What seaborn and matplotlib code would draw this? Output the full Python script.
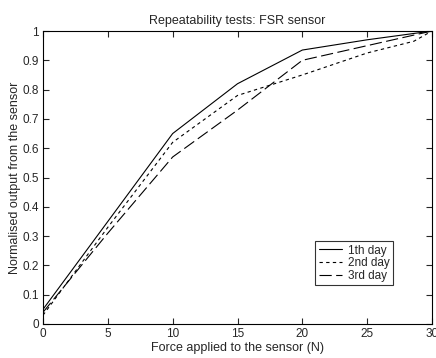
import matplotlib
matplotlib.use("Agg")
import matplotlib.pyplot as plt
import seaborn as sns
import pandas as pd
from matplotlib.ticker import FuncFormatter

day1_x = [0, 5, 10, 15, 20, 25, 30]
day1_y = [0.05, 0.35, 0.65, 0.82, 0.935, 0.97, 1.0]
day2_x = [0, 5, 10, 15, 20, 25, 28.6, 30]
day2_y = [0.03, 0.33, 0.62, 0.78, 0.85, 0.925, 0.965, 1.0]
day3_x = [0, 5, 10, 15, 20, 25, 30]
day3_y = [0.04, 0.31, 0.57, 0.73, 0.90, 0.95, 1.0]
labels = ["1th day", "2nd day", "3rd day"]

df = pd.concat([
    pd.DataFrame({"x": day1_x, "y": day1_y, "day": labels[0]}),
    pd.DataFrame({"x": day2_x, "y": day2_y, "day": labels[1]}),
    pd.DataFrame({"x": day3_x, "y": day3_y, "day": labels[2]}),
])

sns.set_style("ticks")
plt.rcParams['font.family'] = ['Liberation Sans', 'DejaVu Sans']

fig = plt.figure(figsize=(4.36, 3.58), dpi=100)
ax = fig.add_axes([43/436, 1-324/358, (432-43)/436, (324-31)/358])

styles = {labels[0]: "-", labels[1]: (0, (3, 3)), labels[2]: (0, (11, 4))}
for lab in labels:
    sub = df[df["day"] == lab]
    sns.lineplot(data=sub, x="x", y="y", ax=ax, color="black", lw=0.8,
                 linestyle=styles[lab], label=lab, sort=False)

ax.set_xlim(0, 30)
ax.set_ylim(0, 1)
ax.set_xticks([0, 5, 10, 15, 20, 25, 30])
ax.set_yticks([i/10 for i in range(11)])
ax.yaxis.set_major_formatter(FuncFormatter(lambda v, p: f"{v:g}"))
ax.tick_params(direction="in", top=True, right=True, length=4, width=0.8,
               labelsize=8.5, pad=3)
for s in ax.spines.values():
    s.set_linewidth(0.8)
    s.set_color("black")
ax.set_xlabel("Force applied to the sensor (N)", fontsize=9, labelpad=1)
ax.set_ylabel("Normalised output from the sensor", fontsize=9, labelpad=1)
ax.set_title("Repeatability tests: FSR sensor", fontsize=9, pad=5)

leg = ax.legend(loc="upper left", bbox_to_anchor=((315-43)/389, 1-(241-31)/293),
                fontsize=8.5, frameon=True, fancybox=False, handlelength=2.0,
                borderpad=0.3, labelspacing=0.05, handletextpad=0.5, borderaxespad=0)
leg.get_frame().set_edgecolor("black")
leg.get_frame().set_linewidth(0.8)

fig.savefig("out.png", dpi=100)
